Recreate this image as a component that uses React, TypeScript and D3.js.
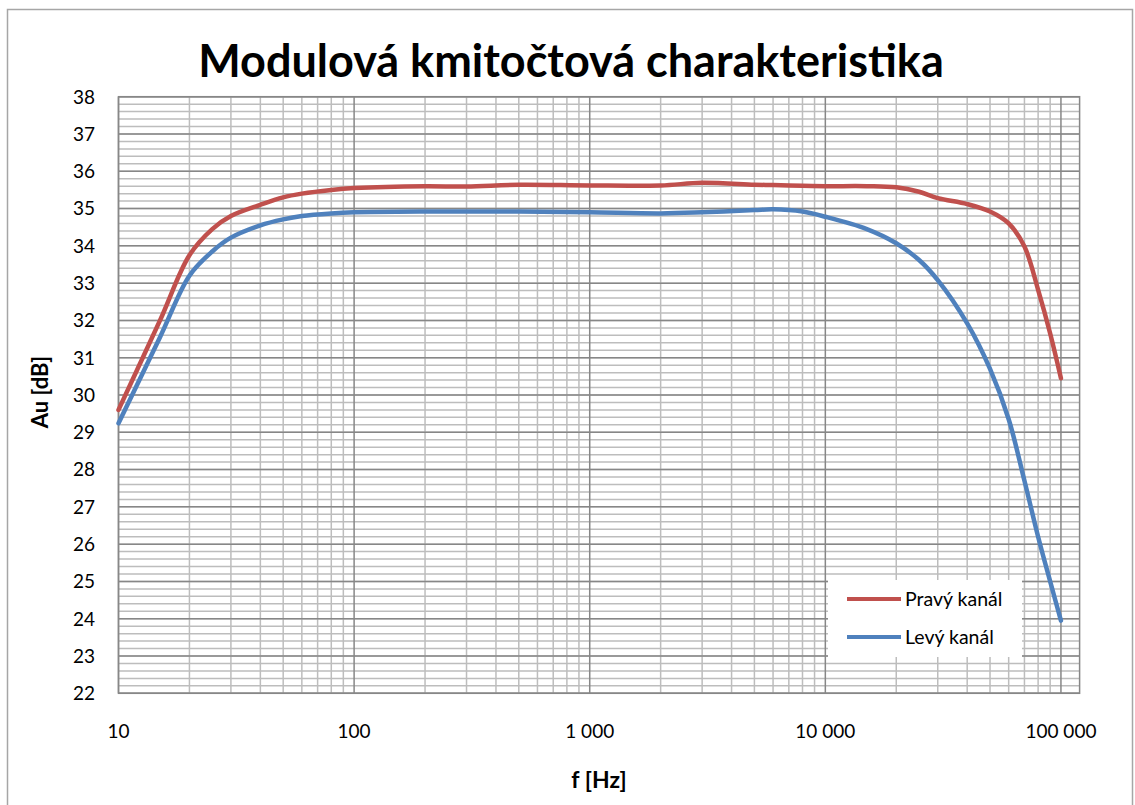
import { scaleLog, scaleLinear, line, curveCatmullRom, range } from "d3";

const freqs = [
  10, 15, 20, 25, 30, 40, 50, 60, 80, 100, 200, 300, 500, 1000, 2000, 3000,
  5000, 6000, 8000, 10000, 15000, 20000, 25000, 30000, 40000, 50000, 60000,
  70000, 80000, 90000, 100000,
];

// Pravý kanál
const rightChannel = [
  29.6, 32.0, 33.75, 34.45, 34.8, 35.1, 35.3, 35.4, 35.5, 35.55, 35.6, 35.59,
  35.64, 35.62, 35.62, 35.69, 35.64, 35.63, 35.61, 35.6, 35.6, 35.57, 35.45,
  35.28, 35.12, 34.92, 34.6, 33.98, 32.82, 31.65, 30.45,
];

// Levý kanál
const leftChannel = [
  29.24, 31.55, 33.2, 33.85, 34.22, 34.55, 34.71, 34.8, 34.87, 34.9, 34.92,
  34.92, 34.92, 34.9, 34.87, 34.9, 34.96, 34.98, 34.92, 34.78, 34.45, 34.07,
  33.62, 33.08, 31.92, 30.7, 29.35, 27.7, 26.2, 25.0, 23.95,
];

const decades = [10, 100, 1000, 10000, 100000];
const decadeLabels = ["10", "100", "1 000", "10 000", "100 000"];
const yTicks = range(22, 39, 1);
const yMinor = range(22, 38.01, 0.2);

const seriesNames = ["Pravý kanál", "Levý kanál"];
const colors = ["#C0504D", "#4F81BD"];

const W = 1135;
const H = 805;
const font = "Lato, 'Open Sans', sans-serif";

export default function App() {
  const x = scaleLog().domain([10, 120000]).range([118.5, 1079.6]);
  const y = scaleLinear().domain([22, 38]).range([693.3, 96.7]);

  const minorX: number[] = [];
  decades.slice(0, 4).forEach((d) => {
    for (let k = 2; k <= 9; k++) minorX.push(d * k);
  });

  const lineFn = line<number>()
    .x((_, i) => x(freqs[i]))
    .y((d) => y(d))
    .curve(curveCatmullRom.alpha(0.5));

  const [x0, x1] = x.range();
  const [y0, y1] = y.range();

  return (
    <svg
      width={W}
      height={H}
      style={{ position: "absolute", left: 0, top: 0, background: "#fff" }}
      fontFamily={font}
    >
      <rect x={7.5} y={9.5} width={1125} height={820} fill="#fff" stroke="#a6a6a6" strokeWidth={1.5} />

      <text x={571} y={77} textAnchor="middle" fontSize={45} fontWeight="bold" fill="#000">
        Modulová kmitočtová charakteristika
      </text>

      {/* minor horizontal grid */}
      {yMinor.map((v, i) => (
        <line key={"ym" + i} x1={x0} x2={x1} y1={y(v)} y2={y(v)} stroke="#bdbdbd" strokeWidth={1.5} />
      ))}
      {/* minor vertical grid */}
      {minorX.map((f) => (
        <line key={"xm" + f} x1={x(f)} x2={x(f)} y1={y1} y2={y0} stroke="#bdbdbd" strokeWidth={1.5} />
      ))}
      {/* major grid */}
      {yTicks.map((v) => (
        <line key={"y" + v} x1={x0} x2={x1} y1={y(v)} y2={y(v)} stroke="#878787" strokeWidth={1.5} />
      ))}
      {decades.map((f) => (
        <line key={"x" + f} x1={x(f)} x2={x(f)} y1={y1} y2={y0} stroke="#878787" strokeWidth={1.5} />
      ))}
      <rect x={x0} y={y1} width={x1 - x0} height={y0 - y1} fill="none" stroke="#878787" strokeWidth={1.5} />

      {/* y tick labels */}
      {yTicks.map((v) => (
        <text key={"yl" + v} x={95} y={y(v)} dy="0.36em" textAnchor="end" fontSize={19} fill="#000">
          {v}
        </text>
      ))}
      {/* x tick labels */}
      {decades.map((f, i) => (
        <text key={"xl" + f} x={x(f)} y={738} textAnchor="middle" fontSize={19} fill="#000">
          {decadeLabels[i]}
        </text>
      ))}

      <text x={599} y={788} textAnchor="middle" fontSize={23} fontWeight="bold" fill="#000">
        f [Hz]
      </text>
      <text
        transform={`translate(48, 392) rotate(-90)`}
        textAnchor="middle"
        fontSize={22}
        fontWeight="bold"
        fill="#000"
      >
        Au [dB]
      </text>

      {[rightChannel, leftChannel].map((s, i) => (
        <path
          key={"s" + i}
          d={lineFn(s) ?? ""}
          fill="none"
          stroke={colors[i]}
          strokeWidth={4.5}
          strokeLinecap="round"
          strokeLinejoin="round"
        />
      ))}

      {/* legend */}
      <rect x={828} y={580} width={194} height={77} fill="#fff" />
      {seriesNames.map((n, i) => (
        <g key={n} transform={`translate(0, ${599 + i * 38})`}>
          <line x1={847} x2={901} y1={0} y2={0} stroke={colors[i]} strokeWidth={4} />
          <text x={905} y={0} dy="0.36em" fontSize={19.5} fill="#000">
            {n}
          </text>
        </g>
      ))}
    </svg>
  );
}
